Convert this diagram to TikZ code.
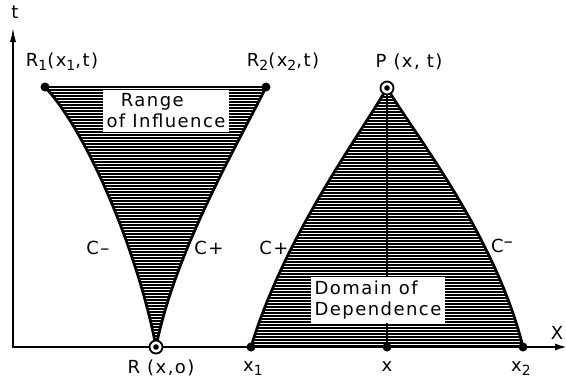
\documentclass[tikz,border=0pt]{standalone}
\usepackage{fontspec}
\setmainfont[LetterSpace=8]{DejaVu Sans}
\usepackage{tikz}
\usetikzlibrary{arrows.meta}
\newcommand\lowix[1]{\raisebox{-0.4ex}{\fontsize{14}{14}\selectfont #1}}
\tikzset{
  axis line/.style={
    line width=1.8pt,
    {Latex[length=15pt,width=6pt]}-{Latex[length=12pt,width=7pt]}
  },
  char line/.style={line width=2.8pt},
  top line/.style={line width=2pt},
  mid line/.style={line width=1.4pt},
  hatch/.style={line width=1.1pt},
  dot/.style={circle, fill, inner sep=0pt, minimum size=9pt},
  ring/.style={
    circle, draw, line width=1.8pt, fill=white,
    inner sep=0pt, minimum size=13pt
  },
  lbl/.style={font=\fontsize{18}{21}\selectfont, inner sep=1pt},
  region text/.style={lbl, fill=white, align=left, inner sep=4pt}
}
\begin{document}
\begin{tikzpicture}[x=1pt, y=-1pt]
  \useasboundingbox (0,0) rectangle (566,381);
  \coordinate (orig) at (13,347);
  \coordinate (tend) at (13,27);
  \coordinate (xend) at (567,347);
  \coordinate (r1) at (45,87);
  \coordinate (r2) at (266,87);
  \coordinate (r) at (156,347);
  \coordinate (p) at (387,88);
  \coordinate (x1) at (251,347);
  \coordinate (xm) at (387,347);
  \coordinate (x2) at (523,347);

  % range of influence
  \begin{scope}
    \clip (r1) .. controls (90,135) and (140,260) .. (r)
          .. controls (175,250) and (240,140) .. (r2) -- cycle;
    \foreach \y in {87,90,...,347} \draw[hatch] (0,\y) -- (566,\y);
  \end{scope}
  % domain of dependence
  \begin{scope}
    \clip (p) .. controls (360,135) and (285,235) .. (x1) -- (x2)
          .. controls (495,235) and (415,135) .. (p);
    \foreach \y in {88,91,...,347} \draw[hatch] (200,\y) -- (566,\y);
  \end{scope}

  \draw[mid line] (p) -- (xm);
  \node[region text] (range) at (166,111) {\hspace*{0.8em}Range\\of Influence};
  \node[region text] (domain) at (378,300) {Domain of\\Dependence};

  \draw[char line] (r1) .. controls (90,135) and (140,260) .. (r);
  \draw[char line] (r2) .. controls (240,140) and (175,250) .. (r);
  \draw[top line] (r1) -- (r2);
  \draw[char line] (p) .. controls (360,135) and (285,235) .. (x1);
  \draw[char line] (p) .. controls (415,135) and (495,235) .. (x2);
  \draw[axis line] (tend) -- (orig) -- (xend);

  \node[dot] (R1) at (r1) {};
  \node[dot] (R2) at (r2) {};
  \node[dot] (X1) at (x1) {};
  \node[dot] (XM) at (xm) {};
  \node[dot] (X2) at (x2) {};
  \node[ring] (R) at (r) {};
  \node[ring] (P) at (p) {};
  \fill (R.center) circle (2.8pt);
  \fill (P.center) circle (2.8pt);

  \node[lbl] (tlbl) at (15,12) {t};
  \node[lbl] (Xlbl) at (557,333) {X};
  \node[lbl] (R1lbl) at (62,62) {R\lowix{1}(x\lowix{1},t)};
  \node[lbl] (R2lbl) at (283,62) {R\lowix{2}(x\lowix{2},t)};
  \node[lbl] (Plbl) at (409,62) {P (x, t)};
  \node[lbl] (Rlbl) at (161,368) {R (x,o)};
  \node[lbl] (x1lbl) at (253,369) {x\lowix{1}};
  \node[lbl] (xlbl) at (387,367) {x};
  \node[lbl] (x2lbl) at (521,369) {x\lowix{2}};
  \node[lbl] (c1) at (98,248) {C--};
  \node[lbl] (c2) at (209,248) {C+};
  \node[lbl] (c3) at (274,248) {C+};
  \node[lbl] (c4) at (502,246) {C\raisebox{0.5ex}{--}};
\end{tikzpicture}
\end{document}
